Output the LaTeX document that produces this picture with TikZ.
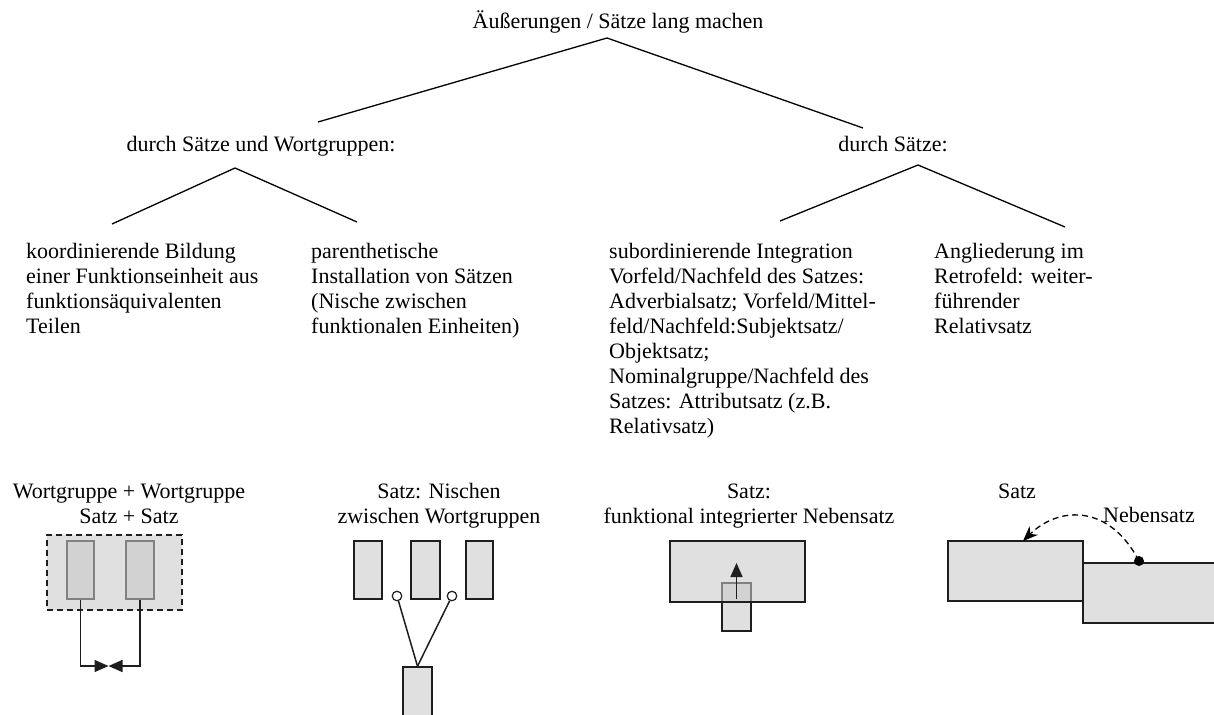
\documentclass[tikz,border=0pt]{standalone}
\usepackage{fontspec}
\setmainfont{Liberation Serif}
\usetikzlibrary{arrows.meta}
\definecolor{boxfill}{RGB}{224,224,224}
\definecolor{overfill}{RGB}{201,201,201}
\definecolor{edge}{RGB}{30,30,30}
\begin{document}
\begin{tikzpicture}[x=1pt,y=-1pt,
  font=\fontsize{22}{25}\selectfont,
  hd/.style={inner sep=0pt, anchor=base},
  blk/.style={inner sep=0pt, align=left, anchor=base west},
  lbl/.style={inner sep=0pt, align=center, anchor=base},
  tree/.style={line width=1.3pt, draw=black},
  rbox/.style={draw=edge, fill=boxfill, line width=1.5pt, inner sep=0pt},
  overlay box/.style={fill=overfill, fill opacity=0.58, draw=edge, line width=1.5pt, inner sep=0pt},
  conn/.style={line width=1.5pt, draw=edge},
  tri/.style={-{Triangle[length=14pt,width=12pt]}},
  hole/.style={circle, draw=edge, fill=white, line width=1.2pt, minimum size=9.5pt, inner sep=0pt},
  dot/.style={circle, fill=black, minimum size=10pt, inner sep=0pt}
]
\useasboundingbox (0,0) rectangle (1214,714);

% --- tree texts ---
\node[hd] (title) at (618,29) {Äußerungen / Sätze lang machen};
\node[hd] (n1) at (261,152) {durch Sätze und Wortgruppen:};
\node[hd] (n2) at (893,152) {durch Sätze:};

\coordinate (a0) at (607,38);
\coordinate (a0l) at (318,122);
\coordinate (a0r) at (863,128);
\draw[tree] (a0l) -- (a0) -- (a0r);

\coordinate (a1) at (235,168);
\coordinate (a1l) at (112,224);
\coordinate (a1r) at (357,222);
\draw[tree] (a1l) -- (a1) -- (a1r);

\coordinate (a2) at (918,165);
\coordinate (a2l) at (780,221);
\coordinate (a2r) at (1065,227);
\draw[tree] (a2l) -- (a2) -- (a2r);

% multi-line nodes: base anchor is the baseline of the last line
\node[blk] (k) at (26,333) {koordinierende Bildung\\einer Funktionseinheit aus\\funktionsäquivalenten\\Teilen};
\node[blk] (p) at (311,333) {parenthetische\\Installation von Sätzen\\(Nische zwischen\\funktionalen Einheiten)};
\node[blk] (s) at (609,433) {subordinierende Integration\\Vorfeld/Nachfeld des Satzes:\\Adverbialsatz; Vorfeld/Mittel-\\feld/Nachfeld:Subjektsatz/\\Objektsatz;\\Nominalgruppe/Nachfeld des\\Satzes: Attributsatz (z.B.\\Relativsatz)};
\node[blk] (a) at (934,333) {Angliederung im\\Retrofeld: weiter-\\führender\\Relativsatz};

% --- bottom labels ---
\node[lbl] (l1) at (129,523) {Wortgruppe + Wortgruppe\\Satz + Satz};
\node[lbl] (l2) at (439,523) {Satz: Nischen\\zwischen Wortgruppen};
\node[lbl] (l3) at (749,523) {Satz:\\funktional integrierter Nebensatz};
\node[lbl] (l4) at (1017,498) {Satz};
\node[lbl] (l5) at (1149,522) {Nebensatz};

% --- diagram 1 ---
\node[rbox, minimum width=27pt, minimum height=58pt] (r1) at (80.5,570) {};
\node[rbox, minimum width=28pt, minimum height=58pt] (r2) at (140,570) {};
\node[overlay box, dash pattern=on 6pt off 4pt, minimum width=135pt, minimum height=75pt] (db) at (114.5,572.5) {};
\coordinate (meet) at (108.5,666);
\draw[conn, tri] (r1.south) |- (meet);
\draw[conn, tri] (r2.south) |- (meet);

% --- diagram 2 ---
\node[rbox, minimum width=28pt, minimum height=58pt] (ra) at (368,570) {};
\node[rbox, minimum width=29pt, minimum height=58pt] (rb) at (425.5,570) {};
\node[rbox, minimum width=27pt, minimum height=58pt] (rc) at (479.5,570) {};
\node[rbox, minimum width=29pt, minimum height=56pt] (rd) at (417.5,695) {};
\node[hole] (h1) at (397,596) {};
\node[hole] (h2) at (452,596) {};
\draw[conn] (h1) -- (rd.north);
\draw[conn] (h2) -- (rd.north);

% --- diagram 3 ---
\node[rbox, minimum width=29pt, minimum height=48pt] (sm) at (736.5,607) {};
\node[overlay box, minimum width=135pt, minimum height=61pt] (bg) at (737.5,571.5) {};
\coordinate (up) at (736.5,563);
\draw[conn, tri] ([yshift=8pt]sm.center) -- (up);

% --- diagram 4 ---
\node[rbox, minimum width=135pt, minimum height=60pt] (L) at (1015.5,571) {};
\node[rbox, minimum width=135pt, minimum height=60pt] (R) at (1150.5,593) {};
\node[dot] (d) at (1139,561) {};
\coordinate (tip) at (1023,541);
\draw[line width=1.3pt, dash pattern=on 6pt off 4pt, -{Stealth[length=15pt,width=12pt]}] (d.center) .. controls (1110,505) and (1060,505) .. (tip);
\end{tikzpicture}
\end{document}
